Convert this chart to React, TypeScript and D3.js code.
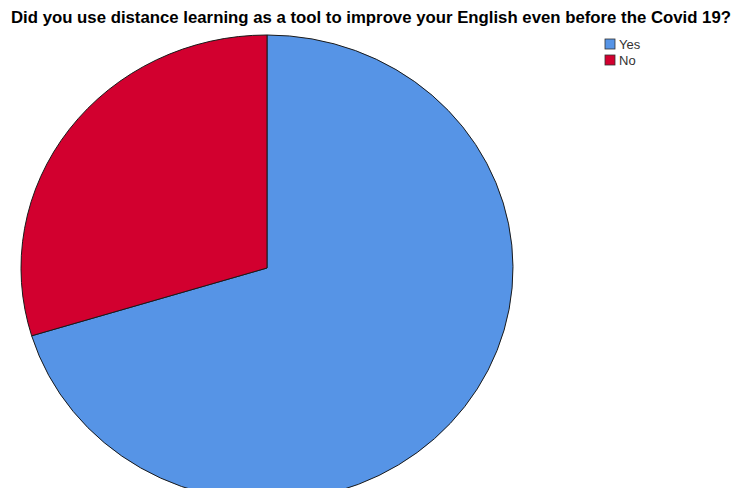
import * as d3 from "d3";
import { useEffect, useRef } from "react";

const title = "Did you use distance learning as a tool to improve your English even before the Covid 19?";
const categories = ["Yes", "No"];
const values = [70.3, 29.7];
const colors = ["#5694e6", "#d2002f"];

function PieChartFc(container: HTMLElement) {
  const width = 742;
  const height = 488;
  const cx = 267;
  const cy = 268;
  const rx = 246;
  const ry = 233;

  const svg = d3.select(container)
    .append("svg")
    .attr("width", width)
    .attr("height", height)
    .attr("style", "position:absolute;left:0;top:0;background:#fff");

  svg.append("text")
    .attr("x", 371)
    .attr("y", 23)
    .attr("text-anchor", "middle")
    .attr("font-family", "Liberation Sans, Arial, sans-serif")
    .attr("font-weight", "bold")
    .attr("font-size", 16.5)
    .attr("textLength", 720)
    .attr("lengthAdjust", "spacingAndGlyphs")
    .attr("fill", "#000")
    .text(title);

  const pie = d3.pie<number>().sort(null).value(d => d);
  const arc = d3.arc<d3.PieArcDatum<number>>().innerRadius(0).outerRadius(rx);

  // ellipse: squash vertically
  const g = svg.append("g")
    .attr("transform", `translate(${cx},${cy}) scale(1,${ry / rx})`);

  g.selectAll("path")
    .data(pie(values))
    .join("path")
    .attr("d", arc)
    .attr("fill", (_, i) => colors[i])
    .attr("stroke", "#1a1a1a")
    .attr("stroke-width", 1)
    .attr("vector-effect", "non-scaling-stroke");

  // legend
  const legend = svg.append("g").attr("transform", "translate(605,39)");
  const item = legend.selectAll("g")
    .data(categories)
    .join("g")
    .attr("transform", (_, i) => `translate(0,${i * 16})`);
  item.append("rect")
    .attr("width", 10)
    .attr("height", 10)
    .attr("fill", (_, i) => colors[i])
    .attr("stroke", "#333")
    .attr("stroke-width", 0.8);
  item.append("text")
    .attr("x", 14)
    .attr("y", 10)
    .attr("font-family", "Liberation Sans, Arial, sans-serif")
    .attr("font-size", 13)
    .attr("fill", "#333")
    .text(d => d);
}

export default function App() {
  const domRef = useRef<HTMLDivElement>(null);
  useEffect(() => {
    if (domRef.current) {
      PieChartFc(domRef.current);
    }
    return () => {
      if (domRef.current) {
        d3.select(domRef.current).selectAll("svg").remove();
      }
    };
  }, []);
  return <div ref={domRef}></div>;
}
